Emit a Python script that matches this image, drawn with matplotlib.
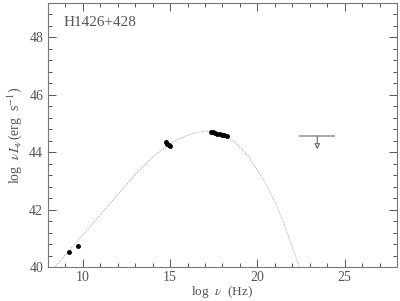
import matplotlib
matplotlib.use("Agg")
import matplotlib.pyplot as plt
from matplotlib.ticker import MultipleLocator

# model curve points
curve_x = [8.4, 9.0, 9.5, 10.0, 10.5, 11.0, 11.5, 12.0, 12.5, 13.0, 13.5, 14.0, 14.5,
           15.0, 15.5, 16.0, 16.5, 17.0, 17.5, 18.0, 18.5, 19.0, 19.5, 20.0, 20.5,
           21.0, 21.5, 22.0, 22.4]
curve_y = [40.0, 40.42, 40.77, 41.12, 41.47, 41.82, 42.17, 42.52, 42.87, 43.22, 43.54, 43.83, 44.08,
           44.29, 44.46, 44.59, 44.68, 44.74, 44.72, 44.63, 44.45, 44.18, 43.82, 43.38, 42.88,
           42.28, 41.55, 40.70, 40.0]

radio_x = [9.2, 9.7]
radio_y = [40.53, 40.73]
opt_x = [14.76, 14.84, 14.92, 14.99]
opt_y = [44.35, 44.30, 44.25, 44.21]
xray_x = [17.32, 17.45, 17.58, 17.71, 17.84, 17.97, 18.10, 18.24]
xray_y = [44.71, 44.69, 44.67, 44.65, 44.63, 44.61, 44.59, 44.57]

ul_xmin, ul_xmax, ul_x, ul_y, ul_tip = 22.4, 24.45, 23.43, 44.57, 44.1

plt.rcParams['font.family'] = ['Liberation Serif', 'DejaVu Serif']
plt.rcParams['mathtext.fontset'] = 'stix'

fig = plt.figure(figsize=(4.0, 3.01), dpi=100)
ax = fig.add_axes([0.12, 0.113, 0.8725, 0.877])
gray = '#555555'

ax.plot(curve_x, curve_y, linestyle=(0, (1, 1.5)), color='#888888', linewidth=0.6)
ax.plot(radio_x, radio_y, 'o', color='black', markersize=2.5)
ax.plot(opt_x, opt_y, 'o', color='black', markersize=2.5)
ax.plot(xray_x, xray_y, 'o', color='black', markersize=2.5)

ax.hlines(ul_y, ul_xmin, ul_xmax, color='#999999', linewidth=1.2)
ax.annotate('', xy=(ul_x, ul_tip), xytext=(ul_x, ul_y),
            arrowprops=dict(arrowstyle='-|>', ec='#666666', fc='white', lw=0.8,
                            mutation_scale=8, shrinkA=0, shrinkB=0))

ax.set_xlim(8, 28)
ax.set_ylim(40, 49.2)
ax.xaxis.set_major_locator(MultipleLocator(5))
ax.xaxis.set_minor_locator(MultipleLocator(1))
ax.yaxis.set_major_locator(MultipleLocator(2))
ax.yaxis.set_minor_locator(MultipleLocator(0.4))
ax.tick_params(which='both', direction='in', top=True, right=True, colors=gray,
               labelsize=10, width=0.7)
ax.tick_params(which='major', length=6)
ax.tick_params(which='minor', length=3)
ax.tick_params(axis='x', pad=3)
for s in ax.spines.values():
    s.set_color('#777777')
    s.set_linewidth(0.8)

ax.set_xlabel(r'log  $\nu$  (Hz)', fontsize=9.5, color=gray, labelpad=0)
ax.set_ylabel(r'log  $\nu L_\nu$(erg  s$^{-1}$)', fontsize=10, color=gray, labelpad=4)
ax.text(0.045, 0.925, 'H1426+428', transform=ax.transAxes, fontsize=11, color=gray,
        va='center', ha='left')

fig.savefig('out.png', dpi=100)
